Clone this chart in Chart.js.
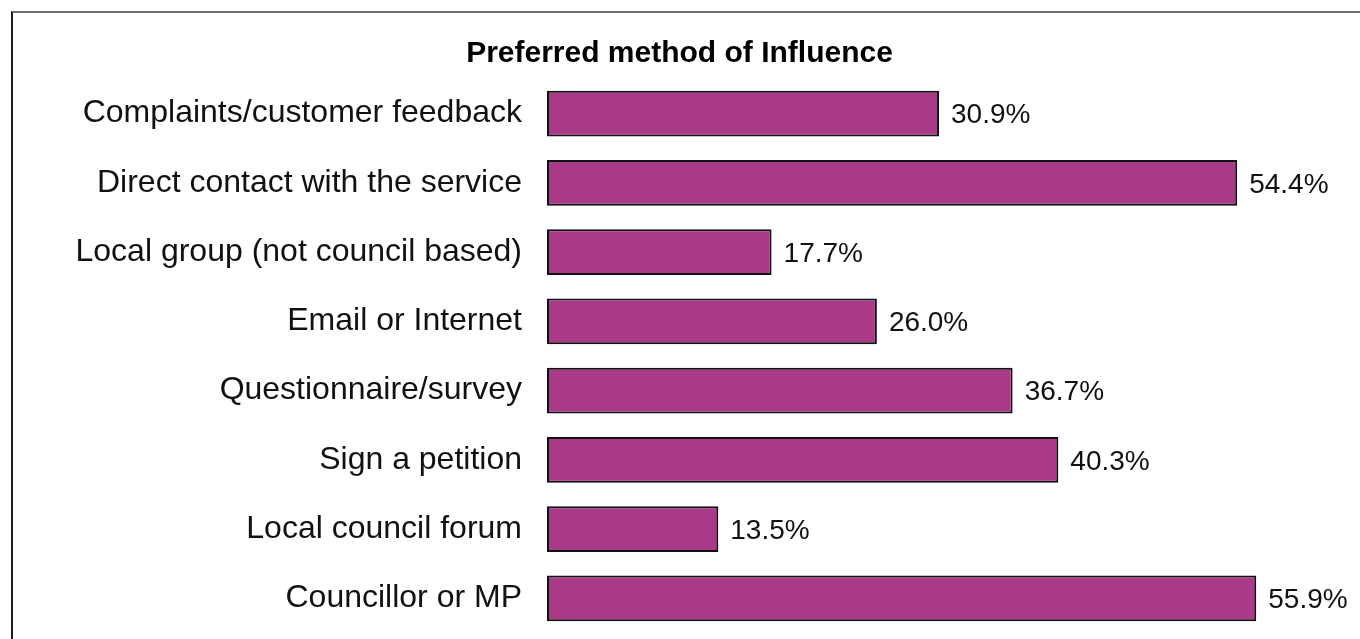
<!DOCTYPE html>
<html>
<head>
<meta charset="utf-8">
<script src="https://cdn.jsdelivr.net/npm/chart.js@4"></script>
<style>
  html, body { margin: 0; padding: 0; background: #fff; }
  #wrap { position: relative; width: 1360px; height: 639px; }
  #frame { position: absolute; left: 11px; top: 11px; right: 0; bottom: 0;
           border-top: 2px solid #6e6e6e; border-left: 2px solid #1a1a1a; }
  #chart { position: absolute; left: 0; top: 0; }
</style>
</head>
<body>
<div id="wrap">
  <div id="frame"></div>
  <canvas id="chart" width="1360" height="639"></canvas>
</div>
<script>
const methods = [
    'Complaints/customer feedback',
    'Direct contact with the service',
    'Local group (not council based)',
    'Email or Internet',
    'Questionnaire/survey',
    'Sign a petition',
    'Local council forum',
    'Councillor or MP'
];
const shares = [30.9, 54.4, 17.7, 26.0, 36.7, 40.3, 13.5, 55.9];

const fontFamily = '"Liberation Sans", Arial, Helvetica, sans-serif';

// value labels at the end of each bar
const valueLabels = {
    id: 'valueLabels',
    afterDatasetsDraw(chart) {
        const ctx = chart.ctx;
        const meta = chart.getDatasetMeta(0);
        ctx.save();
        ctx.font = '28px ' + fontFamily;
        ctx.fillStyle = '#111';
        ctx.textAlign = 'left';
        ctx.textBaseline = 'middle';
        meta.data.forEach((bar, i) => {
            ctx.fillText(shares[i].toFixed(1) + '%', bar.x + 12, bar.y + 2);
        });
        ctx.restore();
    }
};

const ctxInfluence = document.getElementById('chart').getContext('2d');
const influenceChart = new Chart(ctxInfluence, {
    type: 'bar',
    data: {
        labels: methods,
        datasets: [{
            label: 'Preferred method of Influence',
            data: shares,
            backgroundColor: '#a83a87',
            borderColor: '#111',
            borderWidth: 2,
            borderSkipped: false,
            categoryPercentage: 1,
            barPercentage: 0.66
        }]
    },
    options: {
        indexAxis: 'y',
        responsive: false,
        animation: false,
        layout: { padding: { left: 0, right: 1, top: 0, bottom: 6 } },
        scales: {
            x: {
                display: false,
                min: 0,
                max: 64
            },
            y: {
                grid: { display: false, drawTicks: false },
                border: { display: false },
                ticks: {
                    padding: 25,
                    color: '#111',
                    font: { family: fontFamily, size: 32 }
                },
                afterFit(scale) {
                    scale.width = 547;
                    scale.paddingTop = 0;
                    scale.paddingBottom = 0;
                }
            }
        },
        plugins: {
            legend: { display: false },
            tooltip: { enabled: false },
            title: {
                display: true,
                text: 'Preferred method of Influence',
                color: '#000',
                font: { family: fontFamily, size: 30, weight: 'bold' },
                padding: { top: 36, bottom: 7 }
            }
        }
    },
    plugins: [valueLabels]
});
</script>
</body>
</html>
